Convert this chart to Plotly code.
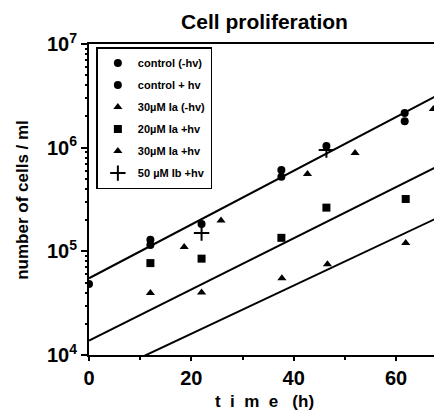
import plotly.graph_objects as go

# ---- data ----
ctrl_dark_t = [0, 12, 22, 37.6, 46.4, 61.7]
ctrl_dark_n = [4.85e4, 1.29e5, 1.84e5, 6.1e5, 1.04e6, 2.16e6]

ctrl_light_t = [12, 37.6, 61.7]
ctrl_light_n = [1.15e5, 5.25e5, 1.8e6]

ia30_dark_t = [18.6, 25.8, 42.7, 52.0, 67.3]
ia30_dark_n = [1.1e5, 1.98e5, 5.57e5, 8.9e5, 2.36e6]

ia20_light_t = [12, 22, 37.6, 46.4, 61.9]
ia20_light_n = [7.7e4, 8.5e4, 1.35e5, 2.64e5, 3.2e5]

ia30_light_t = [12, 22, 37.7, 46.6, 61.9]
ia30_light_n = [3.97e4, 4.0e4, 5.5e4, 7.5e4, 1.2e5]

ib50_light_t = [22, 46.4]
ib50_light_n = [1.5e5, 9.5e5]

fit_t = [0, 68.6]
fit_upper = [5.5e4, 3.3e6]
fit_middle = [1.38e4, 6.8e5]
fit_lower = [5.5e3, 2.16e5]

series_names = ["control (-hv)", "control + hv", "30µM Ia (-hv)",
                "20µM Ia +hv", "30µM Ia +hv", "50 µM Ib +hv"]

y_tickvals = [1e4, 1e5, 1e6, 1e7]
y_ticktext = ["10<sup>4</sup>", "10<sup>5</sup>", "10<sup>6</sup>", "10<sup>7</sup>"]
x_tickvals = [0, 20, 40, 60]

# ---- figure ----
fig = go.Figure()

for fy in [fit_upper, fit_middle, fit_lower]:
    fig.add_trace(go.Scatter(x=fit_t, y=fy, mode="lines",
                             line=dict(color="black", width=2),
                             showlegend=False, hoverinfo="skip"))

series = [
    (ctrl_dark_t, ctrl_dark_n, "circle"),
    (ctrl_light_t, ctrl_light_n, "circle"),
    (ia30_dark_t, ia30_dark_n, "triangle-up"),
    (ia20_light_t, ia20_light_n, "square"),
    (ia30_light_t, ia30_light_n, "triangle-up"),
    (ib50_light_t, ib50_light_n, "cross-thin"),
]
for i, (t, n, sym) in enumerate(series):
    if sym == "cross-thin":
        marker = dict(symbol=sym, size=11, color="black",
                      line=dict(color="black", width=2))
    else:
        marker = dict(symbol=sym, size=8, color="black")
    fig.add_trace(go.Scatter(x=t, y=n, mode="markers", name=series_names[i],
                             marker=marker, legendgroup=f"g{i}"))

minor_y = []
for d in [1e4, 1e5, 1e6]:
    for m in range(2, 10):
        minor_y.append(d * m)

NB = "\u00a0"
x_title = "t" + NB * 2 + "i" + NB * 2 + "m" + NB * 2 + "e" + NB * 3 + "(h)"

# page body has an 8px margin: figure is placed at (8, 8)
fig.update_layout(
    width=434, height=403,
    margin=dict(l=81, r=0, t=36, b=56),
    paper_bgcolor="white", plot_bgcolor="white",
    font=dict(family="Liberation Sans, Arial, sans-serif", color="black"),
    title=dict(text="Cell proliferation", xref="paper", x=0.5,
               xanchor="center", yref="container", y=0.965,
               yanchor="middle",
               font=dict(size=21, weight="bold", color="black")),
    showlegend=True,
    legend=dict(x=0.021, y=0.99, xanchor="left", yanchor="top",
                bgcolor="white", bordercolor="black", borderwidth=1.5,
                font=dict(size=11, weight="bold", color="black"),
                tracegroupgap=3, itemwidth=30),
    xaxis=dict(range=[0, 68.6], tickvals=x_tickvals,
               ticks="outside", ticklen=4, tickwidth=1.5, tickcolor="black",
               minor=dict(tickvals=[10, 30, 50], ticks="outside", ticklen=3,
                          tickcolor="black"),
               showline=True, linecolor="black", linewidth=2, mirror=True,
               showgrid=False, zeroline=False,
               tickfont=dict(size=20, weight="bold"),
               title=dict(text=x_title, standoff=8,
                          font=dict(size=17, weight="bold"))),
    yaxis=dict(type="log", range=[4, 7], tickvals=y_tickvals,
               ticktext=y_ticktext,
               ticks="outside", ticklen=6, tickwidth=1.5, tickcolor="black",
               minor=dict(tickvals=minor_y, ticks="outside", ticklen=2,
                          tickcolor="black"),
               showline=True, linecolor="black", linewidth=2, mirror=True,
               showgrid=False, zeroline=False,
               tickfont=dict(size=20, weight="bold")),
    annotations=[dict(text="number of cells / ml", textangle=-90,
                      xref="paper", yref="paper", x=-0.19, y=0.5,
                      xanchor="center", yanchor="middle", showarrow=False,
                      font=dict(size=17, weight="bold", color="black"))],
)

fig.write_html("out.html")
